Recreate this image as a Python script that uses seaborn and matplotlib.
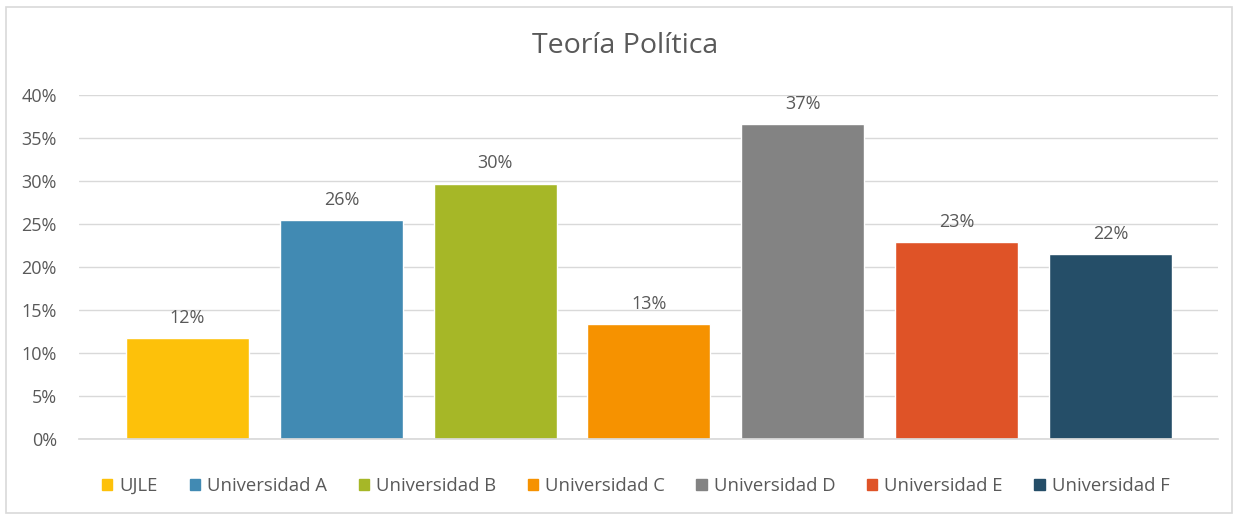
import matplotlib
matplotlib.use("Agg")
import matplotlib.pyplot as plt
from matplotlib.patches import Rectangle
from matplotlib.ticker import PercentFormatter
import seaborn as sns
import pandas as pd

# data
universidades = ["UJLE", "Universidad A", "Universidad B", "Universidad C",
                 "Universidad D", "Universidad E", "Universidad F"]
valores = [0.117, 0.255, 0.297, 0.134, 0.366, 0.229, 0.215]
etiquetas = ["12%", "26%", "30%", "13%", "37%", "23%", "22%"]
colores = ["#FDC10A", "#418AB3", "#A6B727", "#F69200", "#838383", "#DF5327", "#254E68"]

df = pd.DataFrame({"uni": universidades, "valor": valores})

sns.set_theme(style="white")
plt.rcParams["font.family"] = ["Open Sans", "DejaVu Sans"]
texto = "#595959"

fig = plt.figure(figsize=(12.39, 5.19), dpi=100)
ax = fig.add_axes([79 / 1239, 1 - 439 / 519, (1218 - 79) / 1239, (439 - 95) / 519])

sns.barplot(data=df, x="uni", y="valor", hue="uni", palette=colores,
            dodge=False, width=0.8, ax=ax, legend=False, saturation=1)

# data labels
for i, (v, lab) in enumerate(zip(valores, etiquetas)):
    ax.text(i, v + 0.013, lab, ha="center", va="bottom", fontsize=13, color=texto)

ax.set_ylim(0, 0.40)
ax.set_xlim(-0.706, 6.70)
ax.set_yticks([i * 0.05 for i in range(9)])
ax.yaxis.set_major_formatter(PercentFormatter(1.0, decimals=0))
ax.grid(axis="y", color="#D9D9D9", linewidth=1)
ax.set_axisbelow(True)
ax.set_xticks([])
ax.set_xlabel("")
ax.set_ylabel("")
for s in ["top", "right", "left"]:
    ax.spines[s].set_visible(False)
ax.spines["bottom"].set_color("#D9D9D9")
ax.tick_params(axis="y", length=0, labelsize=13, labelcolor=texto, pad=16)

fig.text(625 / 1239, 1 - 46 / 519, "Teoría Política", ha="center", va="center",
         fontsize=20.5, color=texto)

handles = [Rectangle((0, 0), 1, 1, color=c) for c in colores]
fig.legend(handles, universidades, loc="center", bbox_to_anchor=(636 / 1239, 1 - 486 / 519),
           ncol=7, frameon=False, fontsize=13.3, labelcolor=texto,
           handlelength=0.55, handleheight=0.55, handletextpad=0.4, columnspacing=1.7)

# thin chart border
fig.patches.append(Rectangle((6 / 1239, 6 / 519), 1 - 13 / 1239, 1 - 13 / 519,
                             transform=fig.transFigure, fill=False,
                             edgecolor="#D9D9D9", linewidth=1.2))

fig.savefig("out.png", dpi=100, facecolor="white")
